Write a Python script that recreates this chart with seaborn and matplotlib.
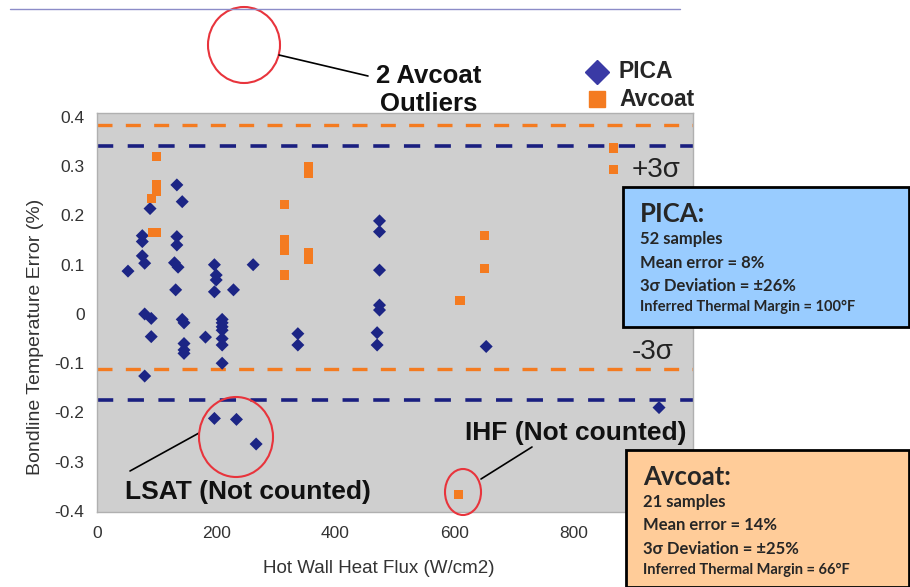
import numpy as np
import pandas as pd
import seaborn as sns
import matplotlib.pyplot as plt
import matplotlib.transforms as mtransforms
from matplotlib.patches import Ellipse, Rectangle
from matplotlib.lines import Line2D

# --- dados ---
pica_flux = [52, 76, 76, 76, 80, 80, 80, 89, 91, 91,
             130, 132, 134, 134, 134, 136,
             143, 143, 146, 146, 146, 146,
             182, 197, 197, 200, 200,
             210, 210, 210, 210, 210, 210, 210,
             229, 262, 337, 337,
             474, 474, 474, 474, 474, 470, 470,
             653, 943,
             197, 234, 267]
pica_err = [0.087, 0.159, 0.147, 0.118, 0.103, 0.0, -0.126, 0.214, -0.009, -0.046,
            0.104, 0.049, 0.262, 0.157, 0.14, 0.095,
            0.228, -0.011, -0.018, -0.06, -0.073, -0.08,
            -0.047, 0.1, 0.045, 0.079, 0.069,
            -0.011, -0.018, -0.026, -0.033, -0.05, -0.063, -0.1,
            0.049, 0.1, -0.04, -0.063,
            0.189, 0.167, 0.089, 0.018, 0.008, -0.038, -0.063,
            -0.066, -0.19,
            -0.212, -0.214, -0.264]

avcoat_flux = [100, 100, 100, 91, 93, 100,
               315, 315, 315, 315,
               355, 355, 355, 355,
               609, 650, 650, 867, 867, 607]
avcoat_err = [0.32, 0.262, 0.248, 0.235, 0.165, 0.165,
              0.223, 0.15, 0.13, 0.079,
              0.30, 0.285, 0.125, 0.11,
              0.028, 0.16, 0.093, 0.337, 0.293, -0.366]

# limites +/- 3 sigma
pica_limits = [0.341, -0.175]
avcoat_limits = [0.384, -0.112]

PICA_COLOR = '#1c2585'
AVCOAT_COLOR = '#f47b20'

df = pd.DataFrame({
    'flux': pica_flux + avcoat_flux,
    'err': pica_err + avcoat_err,
    'material': ['PICA'] * len(pica_flux) + ['Avcoat'] * len(avcoat_flux),
})

sns.set_theme(style='white')
plt.rcParams['font.family'] = ['Liberation Sans', 'DejaVu Sans']

W, H = 910, 587
fig = plt.figure(figsize=(W / 100, H / 100), dpi=100)
ax = fig.add_axes([97 / W, 1 - 512 / H, (693 - 97) / W, (512 - 113) / H])
ax.set_facecolor('#cfcfcf')

# transform em pixels (origem no topo esquerdo)
pxt = mtransforms.Affine2D().scale(1 / W, -1 / H).translate(0, 1) + fig.transFigure

for v in avcoat_limits:
    ax.axhline(v, color=AVCOAT_COLOR, lw=2.4, ls=(0, (4.5, 4)), zorder=1)
for v in pica_limits:
    ax.axhline(v, color='#1a1f80', lw=2.6, ls=(0, (4.5, 4)), zorder=1)

sns.scatterplot(data=df, x='flux', y='err', hue='material', style='material',
                markers={'PICA': 'D', 'Avcoat': 's'},
                palette={'PICA': PICA_COLOR, 'Avcoat': AVCOAT_COLOR},
                s=44, linewidth=0, legend=False, ax=ax, zorder=3)

ax.set_xlim(0, 1000)
ax.set_ylim(-0.402, 0.408)
ax.set_xticks([0, 200, 400, 600, 800])
ax.set_yticks([-0.4, -0.3, -0.2, -0.1, 0, 0.1, 0.2, 0.3, 0.4])
ax.set_yticklabels(['-0.4', '-0.3', '-0.2', '-0.1', '0', '0.1', '0.2', '0.3', '0.4'])
ax.tick_params(axis='both', labelsize=12.5, colors='#333333', length=0)
ax.tick_params(axis='x', pad=10)
ax.tick_params(axis='y', pad=9)
ax.set_xlabel('Hot Wall Heat Flux (W/cm2)', fontsize=13.5, color='#333333')
ax.set_ylabel('Bondline Temperature Error (%)', fontsize=14, color='#333333')
ax.xaxis.set_label_coords(0.473, -0.12)
ax.yaxis.set_label_coords(-0.089, 0.44)
for sp in ax.spines.values():
    sp.set_color('#b0b0b0')
    sp.set_linewidth(1)

# linha fina no topo
fig.add_artist(Line2D([10, 680], [9, 9], transform=pxt, color='#8c8cc8', lw=1))

# anotações
red = '#e8343c'
fig.add_artist(Ellipse((244, 45), 72, 76, transform=pxt, fill=False, ec=red, lw=1.5))
fig.add_artist(Line2D([279, 368], [55, 76], transform=pxt, color='black', lw=1.2))
fig.text(429 / W, 1 - 76 / H, '2 Avcoat', ha='center', va='center',
         fontsize=18.5, fontweight='bold', color='#111111')
fig.text(429 / W, 1 - 104 / H, 'Outliers', ha='center', va='center',
         fontsize=18.5, fontweight='bold', color='#111111')

fig.add_artist(Ellipse((236, 437), 74, 80, transform=pxt, fill=False, ec=red, lw=1.5, zorder=5))
fig.add_artist(Line2D([130, 199], [471, 433], transform=pxt, color='black', lw=1.2))
fig.text(125 / W, 1 - 492 / H, 'LSAT (Not counted)', ha='left', va='center',
         fontsize=19, fontweight='bold', color='#111111')

fig.add_artist(Ellipse((463, 492), 36, 46, transform=pxt, fill=False, ec=red, lw=1.5, zorder=5))
fig.add_artist(Line2D([481, 532], [479, 447], transform=pxt, color='black', lw=1.2))
fig.text(465 / W, 1 - 433 / H, 'IHF (Not counted)', ha='left', va='center',
         fontsize=19, fontweight='bold', color='#111111')

fig.text(632 / W, 1 - 170 / H, '+3σ', ha='left', va='center', fontsize=20, color='#222222')
fig.text(632 / W, 1 - 352 / H, '-3σ', ha='left', va='center', fontsize=20, color='#222222')

# legenda
fig.add_artist(Line2D([597], [72], transform=pxt, marker='D', ms=12, color='#3a3aa5', ls='none'))
fig.add_artist(Line2D([597], [99], transform=pxt, marker='s', ms=11, color=AVCOAT_COLOR, ls='none'))
fig.text(619 / W, 1 - 72 / H, 'PICA', ha='left', va='center', fontsize=16.5, fontweight='bold')
fig.text(619 / W, 1 - 99 / H, 'Avcoat', ha='left', va='center', fontsize=16.5, fontweight='bold')

# caixas de resumo
box_font = ['Lato', 'DejaVu Sans']


def summary_box(x0, y0, x1, y1, color, title, lines, small):
    fig.add_artist(Rectangle((x0, y0), x1 - x0, y1 - y0, transform=pxt,
                             fc=color, ec='black', lw=2, zorder=6))
    tx = x0 + 17
    fig.text(tx / W, 1 - (y0 + 27) / H, title, ha='left', va='center',
             fontsize=18.5, fontweight='bold', family=box_font, zorder=7)
    for i, s in enumerate(lines):
        fig.text(tx / W, 1 - (y0 + 52 + 23.5 * i) / H, s, ha='left', va='center',
                 fontsize=12, fontweight='bold', family=box_font, zorder=7)
    fig.text(tx / W, 1 - (y0 + 52 + 23.5 * len(lines) - 3) / H, small, ha='left',
             va='center', fontsize=10.5, fontweight='bold', family=box_font, zorder=7)


summary_box(623, 187, 909, 327, '#99ccff', 'PICA:',
            ['52 samples', 'Mean error = 8%', '3σ Deviation = ±26%'],
            'Inferred Thermal Margin = 100°F')
summary_box(626, 450, 909, 587, '#ffcc99', 'Avcoat:',
            ['21 samples', 'Mean error = 14%', '3σ Deviation = ±25%'],
            'Inferred Thermal Margin = 66°F')

fig.savefig('out.png', dpi=100)
